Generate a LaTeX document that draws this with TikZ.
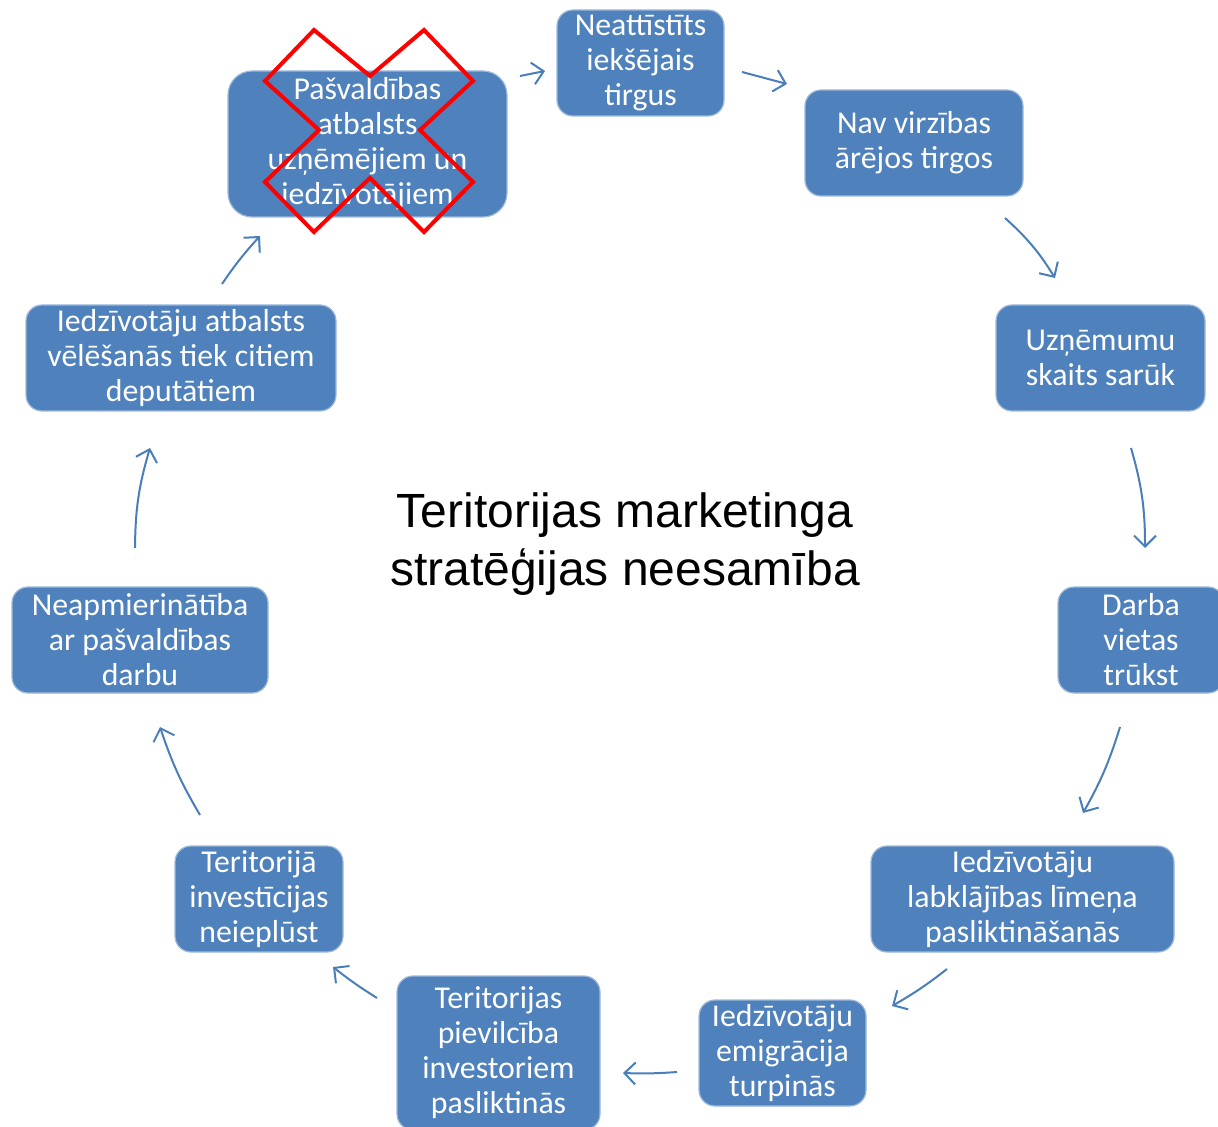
\documentclass[tikz,border=0pt]{standalone}
\usepackage{fontspec}
\setmainfont{Carlito}
\newfontfamily\titlefont{Liberation Sans}
\usetikzlibrary{arrows.meta}
\definecolor{boxblue}{HTML}{4F81BD}
\definecolor{arrblue}{HTML}{4A7EBB}
\definecolor{crossred}{HTML}{FF0000}
\begin{document}
\begin{tikzpicture}[x=0.5pt,y=-0.5pt,
  bx/.style={fill=boxblue, draw=boxblue!55!white, line width=0.6pt, rounded corners=8pt,
    text=white, align=center, inner sep=0pt, font=\fontsize{15.9}{17.5}\selectfont},
  arr/.style={draw=arrblue, line width=1pt, -{Straight Barb[length=5.5pt,width=11pt]}},
  xmark/.style={draw=crossred, line width=2pt, line join=miter}]
\useasboundingbox (0,0) rectangle (1218,1127);

\node[bx, minimum width=139.5pt, minimum height=73pt, rounded corners=12pt] (n1) at (367.5,144) {Pašvaldības\\atbalsts\\uzņēmējiem un\\iedzīvotājiem};
\node[bx, minimum width=83.5pt, minimum height=53pt] (n2) at (640.5,63) {Neattīstīts\\iekšējais\\tirgus};
\node[bx, minimum width=109pt, minimum height=53pt] (n3) at (914,143) {Nav virzības\\ārējos tirgos};
\node[bx, minimum width=104.5pt, minimum height=53pt] (n4) at (1100.5,358) {Uzņēmumu\\skaits sarūk};
\node[bx, minimum width=83pt, minimum height=53pt] (n5) at (1141,640) {Darba\\vietas\\trūkst};
\node[bx, minimum width=151.5pt, minimum height=53pt] (n6) at (1022.5,899) {Iedzīvotāju\\labklājības līmeņa\\pasliktināšanās};
\node[bx, minimum width=83.5pt, minimum height=53pt] (n7) at (782.5,1053) {Iedzīvotāju\\emigrācija\\turpinās};
\node[bx, minimum width=101.5pt, minimum height=77pt] (n8) at (498.5,1053) {Teritorijas\\pievilcība\\investoriem\\pasliktinās};
\node[bx, minimum width=84pt, minimum height=53pt] (n9) at (259,899) {Teritorijā\\investīcijas\\neieplūst};
\node[bx, minimum width=128pt, minimum height=53pt] (n10) at (140,640) {Neapmierinātība\\ar pašvaldības\\darbu};
\node[bx, minimum width=155pt, minimum height=53pt] (n11) at (181,358) {Iedzīvotāju atbalsts\\vēlēšanās tiek citiem\\deputātiem};

\node[font=\titlefont\fontsize{24}{29}\selectfont, align=center, inner sep=0pt] (title) at (625,544) {Teritorijas marketinga\\stratēģijas neesamība};

\draw[xmark] (314,30) -- (370,76) -- (424,30) -- (473,81) -- (420,130) -- (473,182)
  -- (424,232) -- (370,178) -- (314,232) -- (265,182) -- (319,130) -- (265,81) -- cycle;

\coordinate (a1s) at (520,76);   \coordinate (a1e) at (545,71);
\coordinate (a2s) at (742,72);   \coordinate (a2e) at (787,84);
\coordinate (a3s) at (1005,218); \coordinate (a3e) at (1055,278);
\coordinate (a4s) at (1131,448); \coordinate (a4e) at (1145,548);
\coordinate (a5s) at (1120,727); \coordinate (a5e) at (1083,813);
\coordinate (a6s) at (947,969);  \coordinate (a6e) at (892,1006);
\coordinate (a7s) at (677,1072); \coordinate (a7e) at (623,1073);
\coordinate (a8s) at (377,998);  \coordinate (a8e) at (333,967);
\coordinate (a9s) at (200,815);  \coordinate (a9e) at (160,727);
\coordinate (a10s) at (135,548); \coordinate (a10e) at (150,448);
\coordinate (a11s) at (222,284); \coordinate (a11e) at (260,236);

\draw[arr] (a1s) -- (a1e);
\draw[arr] (a2s) -- (a2e);
\draw[arr] (a3s) to[bend left=8] (a3e);
\draw[arr] (a4s) to[bend left=8] (a4e);
\draw[arr] (a5s) to[bend left=6] (a5e);
\draw[arr] (a6s) to[bend left=4] (a6e);
\draw[arr] (a7s) to[bend left=3] (a7e);
\draw[arr] (a8s) to[bend left=3] (a8e);
\draw[arr] (a9s) to[bend left=6] (a9e);
\draw[arr] (a10s) to[bend left=8] (a10e);
\draw[arr] (a11s) to[bend left=4] (a11e);
\end{tikzpicture}
\end{document}
